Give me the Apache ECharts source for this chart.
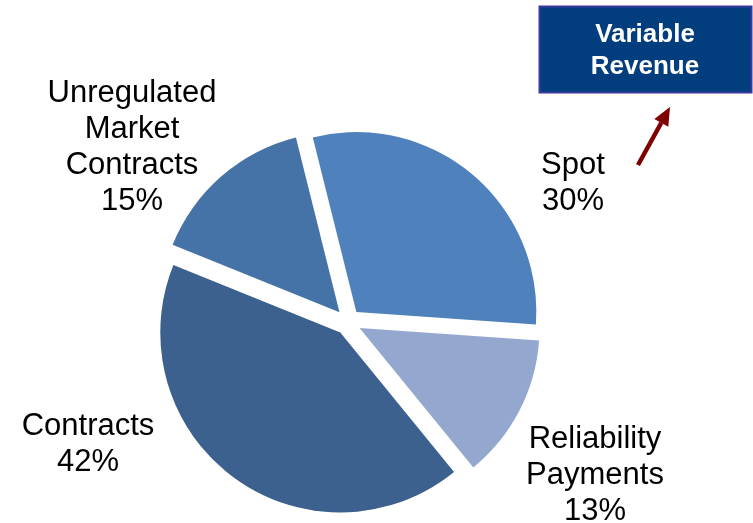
<!DOCTYPE html>
<html>
<head>
<meta charset="utf-8">
<script src="https://cdn.jsdelivr.net/npm/echarts@6/dist/echarts.min.js"></script>
<style>
html,body{margin:0;padding:0;background:#fff;}
#chart{width:753px;height:523px;}
</style>
</head>
<body>
<div id="chart"></div>
<script>
var categories = ['Spot', 'Reliability\nPayments', 'Contracts', 'Unregulated\nMarket\nContracts'];
var shares = [30, 13, 42, 15];
var sliceColors = ['#4F81BD', '#94A8CF', '#3C618E', '#4673A7'];
var labelPos = [
  {x: 573, y: 183},
  {x: 595, y: 475},
  {x: 88, y: 444},
  {x: 132, y: 147}
];

var chart = echarts.init(document.getElementById('chart'), null, {renderer: 'canvas'});
var data = categories.map(function (c, i) {
  return {name: c, value: shares[i], selected: true, itemStyle: {color: sliceColors[i]}};
});

var tip = [670, 107], tail = [638, 165];
var dx = tip[0] - tail[0], dy = tip[1] - tail[1];
var len = Math.sqrt(dx * dx + dy * dy);
var ux = dx / len, uy = dy / len;
var headL = 18, headW = 8;
var bx = tip[0] - ux * headL, by = tip[1] - uy * headL;
var px = -uy * headW, py = ux * headW;

var labelTexts = categories.map(function (c, i) {
  return {
    type: 'text',
    x: labelPos[i].x, y: labelPos[i].y,
    silent: true,
    style: {
      text: c + '\n' + shares[i] + '%',
      fill: '#000',
      font: '31px "Liberation Sans", Arial, sans-serif',
      lineHeight: 36,
      align: 'center',
      verticalAlign: 'middle'
    }
  };
});

chart.setOption({
  animation: false,
  backgroundColor: '#ffffff',
  series: [{
    type: 'pie',
    center: [348, 322],
    radius: [0, 180],
    startAngle: 104,
    clockwise: true,
    selectedMode: 'multiple',
    selectedOffset: 13,
    silent: true,
    data: data,
    itemStyle: {borderWidth: 0},
    select: {itemStyle: {borderWidth: 0}},
    label: {show: false},
    labelLine: {show: false}
  }],
  graphic: labelTexts.concat([
    {
      type: 'rect',
      shape: {x: 539.5, y: 6.5, width: 212, height: 86},
      style: {fill: '#023E7D', stroke: '#3A3A9E', lineWidth: 2}
    },
    {
      type: 'text',
      x: 645, y: 51,
      style: {
        text: 'Variable\nRevenue',
        fill: '#ffffff',
        font: 'bold 26px "Liberation Sans", Arial, sans-serif',
        lineHeight: 32,
        align: 'center',
        verticalAlign: 'middle'
      }
    },
    {
      type: 'line',
      shape: {x1: tail[0], y1: tail[1], x2: bx, y2: by},
      style: {stroke: '#7F0000', lineWidth: 4.5}
    },
    {
      type: 'polygon',
      shape: {points: [[tip[0], tip[1]], [bx + px, by + py], [bx - px, by - py]]},
      style: {fill: '#7F0000'}
    }
  ])
});
</script>
</body>
</html>
